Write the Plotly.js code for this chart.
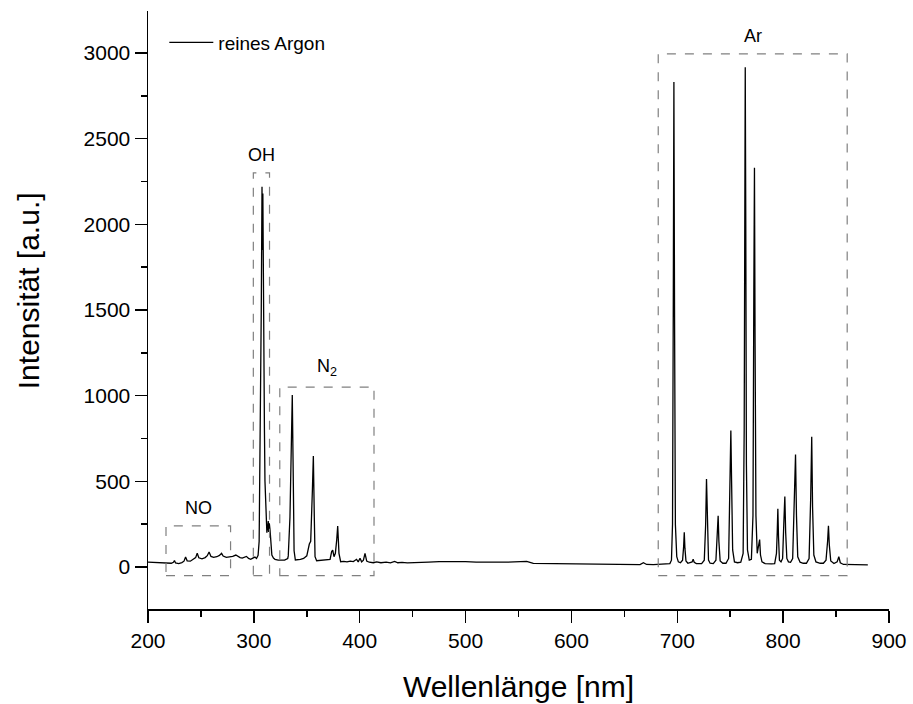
<!DOCTYPE html>
<html>
<head>
<meta charset="utf-8">
<script src="https://cdn.plot.ly/plotly-3.0.1.min.js"></script>
<style>html,body{margin:0;padding:0;background:#fff;}#chart{width:913px;height:704px;}</style>
</head>
<body>
<div id="chart"></div>
<script>
// Spectrum "reines Argon" – wavelength [nm] and intensity [a.u.]
const wavelength = [
200,204,208,212,216,219,222,224,225,226,229,232,234,235.5,237,240,243,245,246.5,248,251,254,256,257.7,259.5,262,265,267.5,269.5,271,274,277,280,283,285,287,289,291,293,295,297,299,301,302.5,
304,305,305.5,306.4,307,307.7,308.1,308.5,309,310,310.5,311.3,312.3,313,313.6,314,314.6,315.3,316,317,318.5,320,323,326,329,332,
332.5,334.1,335.1,336.3,337.3,338,339.2,341,344,347,350,352.4,353.7,355.3,356.2,357.1,357.8,359.3,362,366,369,372,373.5,374.5,375.7,377,378.3,379.2,380.4,382,385,388,391,394,397,398.6,400.3,401.8,403.5,405,406.6,409,412.9,416,420,425,429,433,436,440,445,450,457,
465,475,488,500,510,520,530,540,550,557.7,564,575,590,605,614,625,640,655,664.8,668,671,677.3,684,690,693,
694.5,695.5,696.2,696.8,697.4,698.2,699.5,701,703,705,706,706.6,707.2,708.2,710,712,714,715,716,718,720,723,725.5,726.8,727.6,728.3,729.5,731,734,736.5,737.9,738.6,739.3,740.5,743,746,748.5,749.8,750.6,751.3,752.3,754,757,760,762.2,763.2,763.7,764.2,764.7,765.3,766.3,768,770,771.5,772.3,772.9,773.5,774.3,775.5,777,777.8,778.6,780,783,786,789,792,793.7,794.4,795,795.6,796.5,798,799.5,800.6,801.6,802.4,803.5,805,807,809,810.6,811.7,812.6,813.8,816,819,822,824.5,826,827,827.8,829,831,835,838,840.5,842,842.8,843.6,845,848,851,852.6,854,857,860,864,868,872,876,880
];
const intensity = [
28,27,26,25,23,20,22,28,38,24,20,26,34,58,36,34,44,55,80,54,48,55,66,88,62,56,60,68,80,64,56,58,62,70,60,55,52,57,62,50,45,52,58,50,
68,150,420,1000,1500,2220,1850,2180,1500,800,500,300,200,232,268,205,255,215,120,70,52,45,40,38,40,50,
65,289,678,1004,484,95,41,42,44,50,65,134,150,449,648,293,60,37,38,40,42,45,90,99,60,80,160,239,80,31,33,30,34,32,45,30,51,30,40,80,35,28,25,30,25,28,24,33,25,27,24,26,25,
28,31,33,31,29,27,29,28,29,33,21,20,18,17,17,16,15,15,14,25,15,14,16,17,20,
40,250,1500,2831,1500,250,60,30,25,40,120,203,110,35,22,25,30,45,28,20,19,20,40,250,514,250,40,22,20,40,180,299,150,35,22,22,50,450,796,500,100,30,25,28,80,800,2000,2917,2000,600,100,40,45,300,1600,2330,1300,300,80,120,160,70,30,20,18,18,20,80,200,340,180,40,30,50,250,412,200,50,30,28,50,350,657,300,60,28,22,22,50,400,760,350,70,30,22,22,40,150,240,130,35,20,30,60,25,15,15,13,14,12,13,12
];
const seriesName = "reines Argon";

// Marked emission regions: label, wavelength range and upper intensity of the dashed box
const regionLabels = ["NO", "OH", "N<sub>2</sub>", "Ar"];
const regionStart  = [217, 299.5, 324.5, 682];
const regionEnd    = [278, 314.8, 413.5, 860.5];
const regionTop    = [240, 2300, 1050, 2995];
const regionBottom = -50;

const xTickVals = [200,300,400,500,600,700,800,900];
const yTickVals = [0,500,1000,1500,2000,2500,3000];
const xTitle = 'Wellenlänge [nm]';
const yTitle = 'Intensität [a.u.]';

const FONT = 'Arial, "Liberation Sans", sans-serif';

const shapes = regionLabels.map((_, i) => ({
  type: 'rect', xref: 'x', yref: 'y',
  x0: regionStart[i], x1: regionEnd[i], y0: regionBottom, y1: regionTop[i],
  line: {color: '#808080', width: 1.2, dash: 'dash'}, fillcolor: 'rgba(0,0,0,0)'
}));

const annotations = regionLabels.map((lab, i) => ({
  xref: 'x', yref: 'y',
  x: (regionStart[i] + regionEnd[i]) / 2, y: regionTop[i],
  yshift: 6, yanchor: 'bottom', xanchor: 'center',
  text: lab, showarrow: false,
  font: {family: FONT, size: 18, color: '#000'}
}));
// y-axis title (placed slightly above the plot centre, as in the reference)
annotations.push({
  xref: 'paper', yref: 'paper', x: -0.162, y: 0.533,
  xanchor: 'center', yanchor: 'middle', textangle: -90,
  text: yTitle, showarrow: false,
  font: {family: FONT, size: 30, color: '#000'}
});

const trace = {
  x: wavelength, y: intensity, type: 'scatter', mode: 'lines',
  name: seriesName, line: {color: '#000', width: 1.3}, hoverinfo: 'x+y'
};

const axisCommon = {
  showgrid: false, zeroline: false, showline: true,
  linecolor: '#000', linewidth: 1.5, tickcolor: '#000', tickwidth: 1.5
};

const layout = {
  width: 913, height: 704,
  margin: {l: 148, r: 24, t: 11, b: 95},
  paper_bgcolor: '#fff', plot_bgcolor: '#fff',
  font: {family: FONT, color: '#000'},
  showlegend: true,
  legend: {x: 0.022, y: 0.979, xanchor: 'left', yanchor: 'top',
           bgcolor: 'rgba(0,0,0,0)', borderwidth: 0, itemwidth: 44,
           font: {family: FONT, size: 19, color: '#000'}},
  xaxis: Object.assign({}, axisCommon, {
    range: [200, 900], tickvals: xTickVals, ticks: 'outside', ticklen: 12,
    minor: {dtick: 50, ticks: 'outside', ticklen: 6, tickcolor: '#000', tickwidth: 1.5},
    tickfont: {family: FONT, size: 21},
    title: {text: xTitle, font: {family: FONT, size: 30}, standoff: 25}
  }),
  yaxis: Object.assign({}, axisCommon, {
    range: [-245, 3245], tickvals: yTickVals, ticks: 'outside', ticklen: 12,
    minor: {dtick: 250, ticks: 'outside', ticklen: 6, tickcolor: '#000', tickwidth: 1.5},
    tickfont: {family: FONT, size: 21}
  }),
  xaxis2: Object.assign({}, axisCommon, {
    overlaying: 'x', side: 'top', anchor: 'y', range: [200, 900],
    tickvals: xTickVals, ticks: 'inside', ticklen: 11, showticklabels: false,
    minor: {dtick: 50, ticks: 'inside', ticklen: 5, tickcolor: '#000', tickwidth: 1.5}
  }),
  yaxis2: Object.assign({}, axisCommon, {
    overlaying: 'y', side: 'right', anchor: 'x', range: [-245, 3245],
    tickvals: yTickVals, ticks: 'inside', ticklen: 11, showticklabels: false,
    minor: {dtick: 250, ticks: 'inside', ticklen: 5, tickcolor: '#000', tickwidth: 1.5}
  }),
  shapes: shapes,
  annotations: annotations
};

Plotly.newPlot('chart', [trace], layout, {displayModeBar: false, staticPlot: true});
</script>
</body>
</html>
